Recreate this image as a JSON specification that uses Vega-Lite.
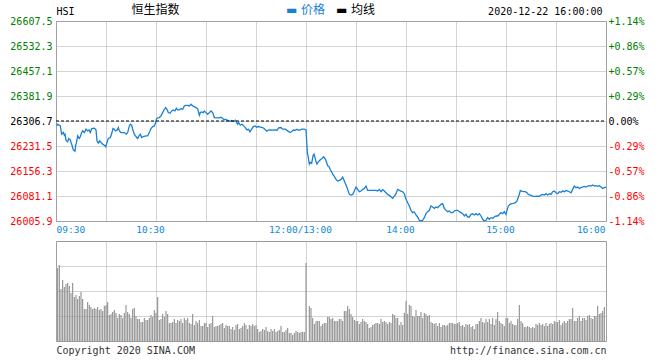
{
  "$schema": "https://vega.github.io/schema/vega-lite/v6.json",
  "background": "white",
  "padding": {"left": 9, "right": 4, "top": 2, "bottom": 2},
  "config": {
    "view": {"stroke": "#999999", "strokeWidth": 1},
    "font": "DejaVu Sans Mono",
    "axis": {"ticks": false, "domain": false, "title": null, "labelOverlap": false, "gridColor": "#a8a8a8", "gridDash": [1, 1], "gridWidth": 1}
  },
  "datasets": {
    "price": [
      {"t":0.4,"p":26292},{"t":1,"p":26297},{"t":2,"p":26294},{"t":2.6,"p":26292},{"t":3.4,"p":26267},{"t":4.4,"p":26272},{"t":5,"p":26264},{"t":5.4,"p":26267},{"t":6,"p":26249},{"t":7,"p":26244},
      {"t":7.6,"p":26254},{"t":8.6,"p":26250},{"t":9,"p":26242},{"t":9.6,"p":26234},{"t":10.4,"p":26220},{"t":11.4,"p":26216},{"t":11.8,"p":26234},{"t":12.2,"p":26240},{"t":13,"p":26262},{"t":14,"p":26254},
      {"t":14.6,"p":26260},{"t":15.4,"p":26272},{"t":16,"p":26277},{"t":17,"p":26272},{"t":18,"p":26282},{"t":19,"p":26277},{"t":19.8,"p":26280},{"t":20.6,"p":26272},{"t":21.4,"p":26284},{"t":23,"p":26285},
      {"t":24,"p":26280},{"t":24.6,"p":26247},{"t":25.4,"p":26240},{"t":26.2,"p":26247},{"t":27,"p":26242},{"t":28,"p":26237},{"t":29,"p":26234},{"t":29.8,"p":26229},{"t":30.6,"p":26242},{"t":31.4,"p":26254},
      {"t":32.6,"p":26257},{"t":33.6,"p":26272},{"t":34.2,"p":26284},{"t":35,"p":26282},{"t":35.6,"p":26277},{"t":36.6,"p":26279},{"t":37.4,"p":26287},{"t":38,"p":26277},{"t":39,"p":26272},{"t":41,"p":26272},
      {"t":42.2,"p":26267},{"t":43,"p":26272},{"t":44,"p":26292},{"t":44.6,"p":26297},{"t":45.4,"p":26294},{"t":46,"p":26282},{"t":47,"p":26267},{"t":48,"p":26260},{"t":49,"p":26254},{"t":49.8,"p":26262},
      {"t":50.6,"p":26267},{"t":51.4,"p":26257},{"t":52.4,"p":26260},{"t":54,"p":26262},{"t":55,"p":26262},{"t":56,"p":26272},{"t":57,"p":26284},{"t":58,"p":26290},{"t":59,"p":26292},{"t":59.6,"p":26299},
      {"t":60.2,"p":26312},{"t":61,"p":26316},{"t":62,"p":26317},{"t":63,"p":26322},{"t":64,"p":26332},{"t":65,"p":26342},{"t":65.8,"p":26347},{"t":66.6,"p":26342},{"t":67.4,"p":26332},{"t":68.4,"p":26330},
      {"t":69.4,"p":26337},{"t":70.4,"p":26340},{"t":71.4,"p":26337},{"t":72.2,"p":26345},{"t":73,"p":26340},{"t":74,"p":26340},{"t":75,"p":26344},{"t":76,"p":26342},{"t":77,"p":26352},{"t":78,"p":26354},
      {"t":79,"p":26354},{"t":80,"p":26352},{"t":81,"p":26357},{"t":82,"p":26352},{"t":83,"p":26350},{"t":84,"p":26347},{"t":85,"p":26344},{"t":86,"p":26324},{"t":86.6,"p":26332},{"t":87.4,"p":26334},
      {"t":88.4,"p":26332},{"t":89,"p":26337},{"t":90,"p":26332},{"t":91,"p":26327},{"t":92,"p":26332},{"t":93,"p":26337},{"t":94,"p":26332},{"t":95,"p":26317},{"t":96,"p":26316},{"t":98,"p":26316},
      {"t":99,"p":26318},{"t":100,"p":26314},{"t":101,"p":26310},{"t":101.6,"p":26312},{"t":102.4,"p":26310},{"t":103.4,"p":26308},{"t":104.6,"p":26306},{"t":105.4,"p":26308},{"t":106.6,"p":26305},{"t":107.6,"p":26309},
      {"t":108.2,"p":26304},{"t":109,"p":26297},{"t":109.6,"p":26302},{"t":110.6,"p":26294},{"t":111.6,"p":26297},{"t":112.6,"p":26292},{"t":113.6,"p":26287},{"t":114.6,"p":26280},{"t":115.6,"p":26282},{"t":116.4,"p":26274},
      {"t":117.4,"p":26282},{"t":118.4,"p":26290},{"t":119.4,"p":26292},{"t":120.4,"p":26288},{"t":121.4,"p":26290},{"t":122.6,"p":26288},{"t":124,"p":26287},{"t":125.4,"p":26282},{"t":126.4,"p":26276},{"t":127.4,"p":26279},
      {"t":128.4,"p":26280},{"t":130,"p":26279},{"t":131.4,"p":26280},{"t":132.6,"p":26279},{"t":133.6,"p":26286},{"t":135,"p":26287},{"t":136,"p":26282},{"t":137.6,"p":26282},{"t":139,"p":26277},{"t":140.4,"p":26272},
      {"t":141.6,"p":26276},{"t":142.6,"p":26280},{"t":143.4,"p":26278},{"t":144.6,"p":26282},{"t":145.6,"p":26279},{"t":146.6,"p":26280},{"t":147.6,"p":26282},{"t":149,"p":26282},{"t":150,"p":26280},{"t":150.4,"p":26247},
      {"t":150.8,"p":26212},{"t":151.2,"p":26202},{"t":152,"p":26177},{"t":152.6,"p":26182},{"t":153.4,"p":26179},{"t":154.2,"p":26202},{"t":154.8,"p":26207},{"t":155.4,"p":26197},{"t":156,"p":26184},{"t":156.6,"p":26177},
      {"t":157.4,"p":26184},{"t":158.6,"p":26190},{"t":159.6,"p":26194},{"t":160.6,"p":26199},{"t":161.6,"p":26192},{"t":162.4,"p":26182},{"t":163,"p":26172},{"t":163.8,"p":26170},{"t":164.6,"p":26160},{"t":165.4,"p":26154},
      {"t":166.2,"p":26145},{"t":167,"p":26140},{"t":168,"p":26131},{"t":169,"p":26126},{"t":170,"p":26128},{"t":171,"p":26131},{"t":172,"p":26138},{"t":173,"p":26126},{"t":174,"p":26114},{"t":175,"p":26101},
      {"t":176,"p":26086},{"t":177,"p":26084},{"t":178,"p":26086},{"t":179,"p":26096},{"t":180,"p":26108},{"t":181,"p":26101},{"t":182,"p":26094},{"t":183,"p":26096},{"t":184,"p":26101},{"t":185,"p":26104},
      {"t":186,"p":26111},{"t":187,"p":26098},{"t":188.6,"p":26098},{"t":190,"p":26098},{"t":192,"p":26098},{"t":193,"p":26096},{"t":194,"p":26101},{"t":195,"p":26094},{"t":196,"p":26100},{"t":197,"p":26096},
      {"t":198,"p":26091},{"t":199,"p":26086},{"t":200,"p":26083},{"t":201,"p":26079},{"t":202,"p":26074},{"t":203,"p":26081},{"t":204,"p":26088},{"t":205,"p":26101},{"t":206,"p":26098},{"t":207,"p":26096},
      {"t":208,"p":26094},{"t":209,"p":26088},{"t":210,"p":26071},{"t":211,"p":26061},{"t":212,"p":26051},{"t":213,"p":26038},{"t":214,"p":26031},{"t":215,"p":26033},{"t":216,"p":26024},{"t":217,"p":26018},
      {"t":218,"p":26008},{"t":219,"p":26006},{"t":220,"p":26008},{"t":221,"p":26016},{"t":222,"p":26028},{"t":223,"p":26034},{"t":224,"p":26038},{"t":225,"p":26051},{"t":226,"p":26048},{"t":227,"p":26044},
      {"t":228,"p":26048},{"t":229,"p":26046},{"t":230,"p":26051},{"t":231,"p":26056},{"t":232,"p":26058},{"t":233,"p":26044},{"t":234,"p":26038},{"t":235,"p":26034},{"t":236,"p":26036},{"t":237,"p":26031},
      {"t":238,"p":26031},{"t":239,"p":26036},{"t":240,"p":26038},{"t":241,"p":26038},{"t":242,"p":26034},{"t":243,"p":26031},{"t":244,"p":26028},{"t":245,"p":26021},{"t":246,"p":26026},{"t":247,"p":26018},
      {"t":248,"p":26018},{"t":249,"p":26026},{"t":250,"p":26028},{"t":251,"p":26024},{"t":252,"p":26028},{"t":253,"p":26024},{"t":254,"p":26028},{"t":255,"p":26021},{"t":256,"p":26011},{"t":257,"p":26006},
      {"t":258,"p":26008},{"t":259,"p":26016},{"t":260,"p":26011},{"t":261,"p":26016},{"t":262,"p":26014},{"t":263,"p":26018},{"t":264,"p":26021},{"t":265,"p":26021},{"t":266,"p":26026},{"t":267,"p":26031},
      {"t":268,"p":26028},{"t":269,"p":26034},{"t":270,"p":26026},{"t":270.6,"p":26038},{"t":271.4,"p":26051},{"t":272.4,"p":26056},{"t":273.4,"p":26058},{"t":274.6,"p":26059},{"t":275.6,"p":26061},{"t":276.6,"p":26066},
      {"t":277.4,"p":26078},{"t":278,"p":26086},{"t":278.6,"p":26098},{"t":279.4,"p":26096},{"t":280.6,"p":26094},{"t":281.6,"p":26094},{"t":282.6,"p":26091},{"t":283.4,"p":26086},{"t":284.6,"p":26084},{"t":286,"p":26081},
      {"t":287.4,"p":26080},{"t":288.6,"p":26081},{"t":290,"p":26080},{"t":291,"p":26084},{"t":292,"p":26086},{"t":293,"p":26084},{"t":294,"p":26088},{"t":295,"p":26084},{"t":296,"p":26088},{"t":297,"p":26086},
      {"t":298,"p":26094},{"t":299,"p":26096},{"t":300,"p":26091},{"t":301,"p":26088},{"t":302,"p":26094},{"t":303,"p":26092},{"t":304,"p":26096},{"t":305,"p":26094},{"t":306,"p":26098},{"t":307,"p":26096},
      {"t":308,"p":26094},{"t":309,"p":26091},{"t":310,"p":26101},{"t":311,"p":26111},{"t":312,"p":26106},{"t":313,"p":26108},{"t":314,"p":26104},{"t":315,"p":26106},{"t":317,"p":26110},{"t":318,"p":26108},
      {"t":319,"p":26111},{"t":320,"p":26112},{"t":321,"p":26111},{"t":322,"p":26114},{"t":323,"p":26111},{"t":324,"p":26112},{"t":325,"p":26110},{"t":326,"p":26112},{"t":327,"p":26108},{"t":328,"p":26104},
      {"t":329,"p":26106},{"t":330,"p":26108}
    ],
    "vol": [
      {"t":1,"v":73},{"t":2,"v":76},{"t":3,"v":52},{"t":4,"v":61},{"t":5,"v":54},{"t":6,"v":57},{"t":7,"v":58},{"t":8,"v":55},{"t":9,"v":48},{"t":10,"v":58},
      {"t":11,"v":44},{"t":12,"v":46},{"t":13,"v":42},{"t":14,"v":45},{"t":15,"v":49},{"t":16,"v":42},{"t":17,"v":32},{"t":18,"v":32},{"t":19,"v":39},{"t":20,"v":36},
      {"t":21,"v":34},{"t":22,"v":32},{"t":23,"v":33},{"t":24,"v":32},{"t":25,"v":34},{"t":26,"v":31},{"t":27,"v":32},{"t":28,"v":30},{"t":29,"v":35},{"t":30,"v":36},
      {"t":31,"v":39},{"t":32,"v":26},{"t":33,"v":27},{"t":34,"v":29},{"t":35,"v":31},{"t":36,"v":28},{"t":37,"v":23},{"t":38,"v":27},{"t":39,"v":26},{"t":40,"v":23},
      {"t":41,"v":28},{"t":42,"v":36},{"t":43,"v":29},{"t":44,"v":27},{"t":45,"v":23},{"t":46,"v":32},{"t":47,"v":33},{"t":48,"v":25},{"t":49,"v":22},{"t":50,"v":22},
      {"t":51,"v":19},{"t":52,"v":19},{"t":53,"v":23},{"t":54,"v":21},{"t":55,"v":21},{"t":56,"v":23},{"t":57,"v":26},{"t":58,"v":24},{"t":59,"v":31},{"t":60,"v":28},
      {"t":61,"v":44},{"t":62,"v":21},{"t":63,"v":22},{"t":64,"v":27},{"t":65,"v":24},{"t":66,"v":30},{"t":67,"v":27},{"t":68,"v":18},{"t":69,"v":18},{"t":70,"v":19},
      {"t":71,"v":22},{"t":72,"v":18},{"t":73,"v":21},{"t":74,"v":20},{"t":75,"v":22},{"t":76,"v":18},{"t":77,"v":23},{"t":78,"v":21},{"t":79,"v":23},{"t":80,"v":18},
      {"t":81,"v":17},{"t":82,"v":27},{"t":83,"v":16},{"t":84,"v":20},{"t":85,"v":18},{"t":86,"v":21},{"t":87,"v":15},{"t":88,"v":15},{"t":89,"v":18},{"t":90,"v":18},
      {"t":91,"v":14},{"t":92,"v":17},{"t":93,"v":18},{"t":94,"v":25},{"t":95,"v":14},{"t":96,"v":15},{"t":97,"v":15},{"t":98,"v":16},{"t":99,"v":17},{"t":100,"v":18},
      {"t":101,"v":13},{"t":102,"v":16},{"t":103,"v":15},{"t":104,"v":15},{"t":105,"v":12},{"t":106,"v":14},{"t":107,"v":11},{"t":108,"v":16},{"t":109,"v":17},{"t":110,"v":12},
      {"t":111,"v":13},{"t":112,"v":15},{"t":113,"v":18},{"t":114,"v":16},{"t":115,"v":12},{"t":116,"v":16},{"t":117,"v":15},{"t":118,"v":17},{"t":119,"v":15},{"t":120,"v":16},
      {"t":121,"v":12},{"t":122,"v":9},{"t":123,"v":10},{"t":124,"v":12},{"t":125,"v":11},{"t":126,"v":14},{"t":127,"v":10},{"t":128,"v":9},{"t":129,"v":12},{"t":130,"v":10},
      {"t":131,"v":12},{"t":132,"v":9},{"t":133,"v":10},{"t":134,"v":11},{"t":135,"v":15},{"t":136,"v":9},{"t":137,"v":9},{"t":138,"v":11},{"t":139,"v":13},{"t":140,"v":8},
      {"t":141,"v":8},{"t":142,"v":6},{"t":143,"v":8},{"t":144,"v":10},{"t":145,"v":9},{"t":146,"v":8},{"t":147,"v":9},{"t":148,"v":9},{"t":149,"v":9},{"t":150,"v":78},
      {"t":152,"v":35},{"t":153,"v":33},{"t":154,"v":23},{"t":155,"v":17},{"t":156,"v":20},{"t":157,"v":20},{"t":158,"v":20},{"t":159,"v":15},{"t":160,"v":17},{"t":161,"v":18},
      {"t":162,"v":18},{"t":163,"v":24},{"t":164,"v":24},{"t":165,"v":22},{"t":166,"v":23},{"t":167,"v":20},{"t":168,"v":20},{"t":169,"v":20},{"t":170,"v":22},{"t":171,"v":22},
      {"t":172,"v":20},{"t":173,"v":30},{"t":174,"v":30},{"t":175,"v":35},{"t":176,"v":32},{"t":177,"v":27},{"t":178,"v":24},{"t":179,"v":21},{"t":180,"v":20},{"t":181,"v":20},
      {"t":182,"v":17},{"t":183,"v":19},{"t":184,"v":22},{"t":185,"v":20},{"t":186,"v":19},{"t":187,"v":17},{"t":188,"v":13},{"t":189,"v":14},{"t":190,"v":16},{"t":191,"v":17},
      {"t":192,"v":18},{"t":193,"v":18},{"t":194,"v":17},{"t":195,"v":22},{"t":196,"v":19},{"t":197,"v":20},{"t":198,"v":19},{"t":199,"v":17},{"t":200,"v":19},{"t":201,"v":18},
      {"t":202,"v":27},{"t":203,"v":26},{"t":204,"v":23},{"t":205,"v":23},{"t":206,"v":16},{"t":207,"v":19},{"t":208,"v":16},{"t":209,"v":28},{"t":210,"v":40},{"t":211,"v":27},
      {"t":212,"v":36},{"t":213,"v":35},{"t":214,"v":25},{"t":215,"v":24},{"t":216,"v":31},{"t":217,"v":25},{"t":218,"v":25},{"t":219,"v":29},{"t":220,"v":23},{"t":221,"v":28},
      {"t":222,"v":27},{"t":223,"v":25},{"t":224,"v":26},{"t":225,"v":19},{"t":226,"v":18},{"t":227,"v":17},{"t":228,"v":18},{"t":229,"v":15},{"t":230,"v":18},{"t":231,"v":14},
      {"t":232,"v":16},{"t":233,"v":16},{"t":234,"v":15},{"t":235,"v":16},{"t":236,"v":18},{"t":237,"v":18},{"t":238,"v":18},{"t":239,"v":17},{"t":240,"v":17},{"t":241,"v":18},
      {"t":242,"v":19},{"t":243,"v":15},{"t":244,"v":16},{"t":245,"v":14},{"t":246,"v":17},{"t":247,"v":16},{"t":248,"v":17},{"t":249,"v":14},{"t":250,"v":15},{"t":251,"v":12},
      {"t":252,"v":17},{"t":253,"v":17},{"t":254,"v":20},{"t":255,"v":23},{"t":256,"v":19},{"t":257,"v":18},{"t":258,"v":22},{"t":259,"v":19},{"t":260,"v":22},{"t":261,"v":17},
      {"t":262,"v":23},{"t":263,"v":16},{"t":264,"v":22},{"t":265,"v":29},{"t":266,"v":20},{"t":267,"v":18},{"t":268,"v":17},{"t":269,"v":15},{"t":270,"v":23},{"t":271,"v":23},
      {"t":272,"v":18},{"t":273,"v":20},{"t":274,"v":17},{"t":275,"v":16},{"t":276,"v":16},{"t":277,"v":22},{"t":278,"v":36},{"t":279,"v":20},{"t":280,"v":18},{"t":281,"v":14},
      {"t":282,"v":14},{"t":283,"v":15},{"t":284,"v":14},{"t":285,"v":13},{"t":286,"v":14},{"t":287,"v":13},{"t":288,"v":17},{"t":289,"v":16},{"t":290,"v":18},{"t":291,"v":16},
      {"t":292,"v":17},{"t":293,"v":15},{"t":294,"v":18},{"t":295,"v":15},{"t":296,"v":17},{"t":297,"v":18},{"t":298,"v":17},{"t":299,"v":20},{"t":300,"v":19},{"t":301,"v":19},
      {"t":302,"v":21},{"t":303,"v":16},{"t":304,"v":18},{"t":305,"v":20},{"t":306,"v":18},{"t":307,"v":20},{"t":308,"v":22},{"t":309,"v":22},{"t":310,"v":33},{"t":311,"v":20},
      {"t":312,"v":20},{"t":313,"v":23},{"t":314,"v":25},{"t":315,"v":20},{"t":316,"v":23},{"t":317,"v":23},{"t":318,"v":21},{"t":319,"v":25},{"t":320,"v":26},{"t":321,"v":23},
      {"t":322,"v":22},{"t":323,"v":25},{"t":324,"v":25},{"t":325,"v":35},{"t":326,"v":27},{"t":327,"v":28},{"t":328,"v":30},{"t":329,"v":34}
    ]
  },
  "bounds": "flush",
  "spacing": 20,
  "vconcat": [
    {
      "width": 550,
      "height": 200,
      "layer": [
        {
          "data": {"name": "price"},
          "mark": {"type": "line", "color": "#1a80d4", "strokeWidth": 1.3},
          "encoding": {
            "x": {
              "field": "t", "type": "quantitative",
              "scale": {"domain": [0, 330], "nice": false, "zero": false, "padding": 0},
              "axis": {
                "orient": "bottom", "title": null,
                "values": [0, 30, 60, 90, 120, 150, 180, 210, 240, 270, 300, 330],
                "labelExpr": "datum.value == 0 ? '09:30' : datum.value == 60 ? '10:30' : datum.value == 150 ? '12:00/13:00' : datum.value == 210 ? '14:00' : datum.value == 270 ? '15:00' : datum.value == 330 ? '16:00' : ''",
                "labelFlush": true, "labelColor": "#1288d8", "labelFont": "DejaVu Sans Mono", "labelFontSize": 9.5, "labelPadding": 3,
                "labelOffset": {"condition": [{"test": "datum.value == 0", "value": 0}, {"test": "datum.value == 330", "value": -1}], "value": -6},
                "grid": true
              }
            },
            "y": {
              "field": "p", "type": "quantitative",
              "scale": {"domain": [26005.9, 26607.5], "nice": false, "zero": false},
              "axis": {
                "orient": "left", "title": null,
                "values": [26005.9, 26081.1, 26156.3, 26231.5, 26306.7, 26381.9, 26457.1, 26532.3, 26607.5],
                "format": ".1f", "labelFont": "DejaVu Sans Mono", "labelFontSize": 10, "labelPadding": 4,
                "labelColor": {"condition": [{"test": "datum.value > 26307", "value": "#008000"}, {"test": "datum.value < 26306", "value": "#ff0000"}], "value": "#000000"},
                "grid": true
              }
            }
          }
        },
        {
          "data": {"values": [{"p": 26306.7}]},
          "mark": {"type": "rule", "color": "#000000", "strokeDash": [3, 2], "strokeWidth": 1},
          "encoding": {
            "x": {
              "datum": 0, "type": "quantitative",
              "axis": {
                "orient": "top", "title": null, "grid": false,
                "values": [0, 60, 150, 180, 330],
                "labelExpr": "datum.value == 0 ? 'HSI' : datum.value == 60 ? '恒生指数' : datum.value == 150 ? '▬ 价格' : datum.value == 180 ? '▬ 均线' : '2020-12-22 16:00:00'",
                "labelFlush": true, "labelPadding": 5,
                "labelColor": {"condition": {"test": "datum.value == 150", "value": "#1a80d4"}, "value": "#000000"},
                "labelFont": {"condition": [{"test": "datum.value == 60", "value": "Noto Sans CJK SC"}, {"test": "datum.value == 150 || datum.value == 180", "value": "DejaVu Sans, Noto Sans CJK SC"}], "value": "DejaVu Sans Mono"},
                "labelFontSize": {"condition": {"test": "datum.value == 60 || datum.value == 150 || datum.value == 180", "value": 12}, "value": 10},
                "labelOffset": {"condition": [{"test": "datum.value == 0", "value": 0}, {"test": "datum.value == 330", "value": -4}], "value": -1}
              }
            },
            "x2": {"datum": 330},
            "y": {
              "field": "p", "type": "quantitative",
              "axis": {
                "orient": "right", "title": null, "grid": false,
                "values": [26005.9, 26081.1, 26156.3, 26231.5, 26306.7, 26381.9, 26457.1, 26532.3, 26607.5],
                "labelExpr": "datum.value > 26307 ? '+' + format((datum.value / 26306.7 - 1) * 100, '.2f') + '%' : datum.value < 26306 ? '-' + format((1 - datum.value / 26306.7) * 100, '.2f') + '%' : '0.00%'",
                "labelFont": "DejaVu Sans Mono", "labelFontSize": 10, "labelPadding": 2,
                "labelColor": {"condition": [{"test": "datum.value > 26307", "value": "#008000"}, {"test": "datum.value < 26306", "value": "#ff0000"}], "value": "#000000"}
              }
            }
          }
        }
      ],
      "resolve": {"axis": {"x": "independent", "y": "independent"}}
    },
    {
      "width": 550,
      "height": 100,
      "data": {"name": "vol"},
      "mark": {"type": "bar", "color": "#8f8f8f", "width": 1.1},
      "encoding": {
        "x": {
          "field": "t", "type": "quantitative",
          "scale": {"domain": [0, 330], "nice": false, "zero": false, "padding": 0},
          "axis": {
            "orient": "bottom", "title": null,
            "values": [0, 30, 60, 90, 120, 150, 180, 210, 240, 270, 300, 330],
            "labelExpr": "datum.value == 0 ? 'Copyright 2020 SINA.COM' : datum.value == 330 ? 'http://finance.sina.com.cn' : ''",
            "labelFlush": true, "labelColor": "#333333", "labelFont": "DejaVu Sans Mono", "labelFontSize": 10, "labelPadding": 4,
            "grid": true
          }
        },
        "y": {
          "field": "v", "type": "quantitative",
          "scale": {"domain": [0, 100], "nice": false},
          "axis": {"title": null, "values": [25, 50, 75], "labels": false, "grid": true}
        }
      }
    }
  ]
}
